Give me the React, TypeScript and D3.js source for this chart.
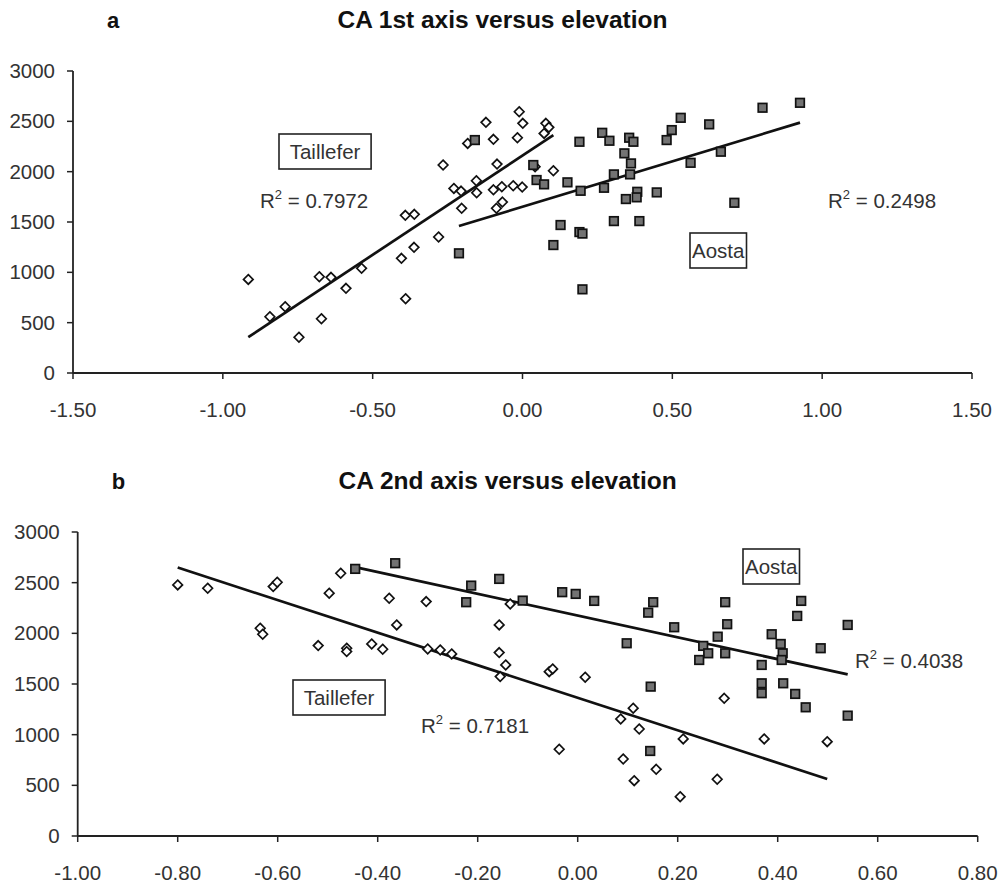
import * as d3 from "d3";

// CA axis score vs elevation (m)
const taillA: [number, number][] = [
  [-0.915, 930], [-0.843, 559], [-0.792, 658], [-0.746, 355], [-0.678, 956], [-0.671, 539],
  [-0.639, 950], [-0.589, 841], [-0.537, 1040], [-0.404, 1139], [-0.391, 1566], [-0.361, 1576],
  [-0.362, 1248], [-0.39, 738], [-0.28, 1351], [-0.265, 2066], [-0.229, 1834], [-0.203, 1636],
  [-0.205, 1807], [-0.183, 2281], [-0.122, 2490], [-0.097, 2321], [-0.154, 1910], [-0.153, 1790],
  [-0.085, 2075], [-0.097, 1820], [-0.069, 1850], [-0.031, 1860], [-0.001, 1847], [-0.067, 1698],
  [-0.087, 1636], [-0.011, 2595], [0.001, 2480], [-0.017, 2337], [0.078, 2480], [0.088, 2440],
  [0.072, 2380], [0.042, 2049], [0.103, 2009],
];
const aostaA: [number, number][] = [
  [-0.212, 1189], [-0.159, 2314], [0.036, 2066], [0.047, 1917], [0.072, 1874], [0.15, 1894],
  [0.19, 2297], [0.194, 1810], [0.127, 1470], [0.103, 1271], [0.19, 1400], [0.2, 1385],
  [0.2, 831], [0.266, 2386], [0.29, 2307], [0.272, 1840], [0.305, 1973], [0.305, 1509],
  [0.34, 2182], [0.356, 2337], [0.37, 2297], [0.362, 2082], [0.359, 1973], [0.345, 1728],
  [0.383, 1800], [0.381, 1745], [0.39, 1509], [0.448, 1794], [0.481, 2314], [0.498, 2413],
  [0.528, 2535], [0.561, 2088], [0.623, 2470], [0.662, 2198], [0.707, 1691], [0.801, 2635],
  [0.926, 2684],
];
const taillB: [number, number][] = [
  [-0.8, 2478], [-0.74, 2445], [-0.609, 2461], [-0.601, 2504], [-0.635, 2050], [-0.63, 1991],
  [-0.519, 1879], [-0.497, 2396], [-0.474, 2593], [-0.462, 1853], [-0.462, 1820], [-0.412, 1895],
  [-0.39, 1843], [-0.377, 2346], [-0.362, 2083], [-0.303, 2313], [-0.3, 1846], [-0.275, 1836],
  [-0.252, 1797], [-0.157, 2083], [-0.157, 1810], [-0.144, 1688], [-0.155, 1573], [-0.135, 2290],
  [-0.057, 1622], [-0.05, 1649], [0.015, 1567], [-0.037, 856], [0.111, 1261], [0.086, 1155],
  [0.123, 1056], [0.091, 760], [0.157, 658], [0.113, 546], [0.293, 1359], [0.211, 958],
  [0.279, 560], [0.205, 388], [0.373, 958], [0.499, 931],
];
const aostaB: [number, number][] = [
  [-0.445, 2636], [-0.365, 2692], [-0.213, 2471], [-0.223, 2307], [-0.157, 2537], [-0.11, 2323],
  [-0.031, 2406], [-0.004, 2389], [0.033, 2320], [0.098, 1902], [0.146, 1474], [0.145, 839],
  [0.141, 2204], [0.151, 2307], [0.193, 2060], [0.295, 2307], [0.299, 2090], [0.28, 1967],
  [0.251, 1876], [0.261, 1803], [0.243, 1737], [0.295, 1803], [0.368, 1688], [0.368, 1507],
  [0.368, 1409], [0.388, 1991], [0.406, 1895], [0.41, 1803], [0.408, 1737], [0.411, 1507],
  [0.435, 1402], [0.456, 1270], [0.439, 2172], [0.447, 2320], [0.486, 1853], [0.54, 2083],
  [0.54, 1188],
];

// linear trend lines [slope, intercept]
const fitTaillA = [1972, 2160];
const fitAostaA = [903, 1651];
const fitTaillB = [-1606, 1364];
const fitAostaB = [-1075, 2175];

const r2 = { taillA: "0.7972", aostaA: "0.2498", taillB: "0.7181", aostaB: "0.4038" };

const yTicks = [0, 500, 1000, 1500, 2000, 2500, 3000];
const xTicksA = [-1.5, -1, -0.5, 0, 0.5, 1, 1.5];
const xTicksB = [-1, -0.8, -0.6, -0.4, -0.2, 0, 0.2, 0.4, 0.6, 0.8];

const FONT = "'Liberation Sans', Arial, sans-serif";
const FS = 20.5;

type Label = { text: string; x: number; y: number; r2?: boolean };

type PanelProps = {
  letter: string;
  title: string;
  left: number;
  right: number;
  top: number;
  bottom: number;
  xTicks: number[];
  taill: [number, number][];
  aosta: [number, number][];
  fitT: number[];
  fitA: number[];
  labels: Label[];
};

const Diamond = ({ x, y }: { x: number; y: number }) => (
  <path
    d={`M${x},${y - 4.8}L${x + 4.8},${y}L${x},${y + 4.8}L${x - 4.8},${y}Z`}
    fill="white"
    stroke="#111"
    strokeWidth={1.7}
  />
);

const Square = ({ x, y }: { x: number; y: number }) => (
  <rect x={x - 4.3} y={y - 4.3} width={8.6} height={8.6} fill="#737373" stroke="#111" strokeWidth={1.7} />
);

const Panel = (p: PanelProps) => {
  const x = d3.scaleLinear().domain(d3.extent(p.xTicks) as [number, number]).range([p.left, p.right]);
  const y = d3.scaleLinear().domain([0, 3000]).range([p.bottom, p.top]);

  const trend = (pts: [number, number][], fit: number[]) => {
    const ext = d3.extent(pts, (d) => d[0]) as [number, number];
    return d3
      .line<number>()
      .x((d) => x(d))
      .y((d) => y(fit[0] * d + fit[1]))(ext) as string;
  };

  const boxW = (t: string) => t.length * 8.9 + 12;

  return (
    <g fontFamily={FONT}>
      <text x={p.left + 34} y={p.top - 43} fontSize={22} fontWeight="bold" fill="#111">
        {p.letter}
      </text>
      <text x={(p.left + p.right) / 2 - 20} y={p.top - 43} fontSize={24.5} fontWeight="bold" fill="#111" textAnchor="middle">
        {p.title}
      </text>

      {/* axes */}
      <line x1={p.left} x2={p.left} y1={p.top} y2={p.bottom} stroke="#222" strokeWidth={1.8} />
      <line x1={p.left} x2={p.right} y1={p.bottom} y2={p.bottom} stroke="#222" strokeWidth={1.8} />
      {yTicks.map((t) => (
        <g key={t}>
          <line x1={p.left - 6} x2={p.left} y1={y(t)} y2={y(t)} stroke="#222" strokeWidth={1.5} />
          <text x={p.left - 18} y={y(t) + 7} textAnchor="end" fontSize={FS} fill="#333">
            {t}
          </text>
        </g>
      ))}
      {p.xTicks.map((t) => (
        <g key={t}>
          <line x1={x(t)} x2={x(t)} y1={p.bottom} y2={p.bottom + 6} stroke="#222" strokeWidth={1.5} />
          <text x={x(t)} y={p.bottom + 44} textAnchor="middle" fontSize={FS} fill="#333">
            {t.toFixed(2)}
          </text>
        </g>
      ))}

      {/* trend lines */}
      <path d={trend(p.taill, p.fitT)} stroke="#111" strokeWidth={2.7} fill="none" />
      <path d={trend(p.aosta, p.fitA)} stroke="#111" strokeWidth={2.7} fill="none" />

      {p.taill.map((d, i) => (
        <Diamond key={"t" + i} x={x(d[0])} y={y(d[1])} />
      ))}
      {p.aosta.map((d, i) => (
        <Square key={"a" + i} x={x(d[0])} y={y(d[1])} />
      ))}

      {p.labels.map((l, i) =>
        l.r2 ? (
          <text key={i} x={l.x} y={l.y} fontSize={FS} fill="#333">
            R<tspan fontSize={13} dy={-9}>2</tspan>
            <tspan dy={9}>{" = " + l.text}</tspan>
          </text>
        ) : (
          <g key={i}>
            <rect x={l.x} y={l.y} width={boxW(l.text)} height={35} fill="white" stroke="#222" strokeWidth={1.6} />
            <text x={l.x + boxW(l.text) / 2} y={l.y + 25} textAnchor="middle" fontSize={FS} fill="#333">
              {l.text}
            </text>
          </g>
        )
      )}
    </g>
  );
};

export default function App() {
  return (
    <svg
      width={998}
      height={884}
      style={{ position: "absolute", left: 0, top: 0, background: "white" }}
    >
      <Panel
        letter="a"
        title="CA 1st axis versus elevation"
        left={73}
        right={972}
        top={71}
        bottom={373}
        xTicks={xTicksA}
        taill={taillA}
        aosta={aostaA}
        fitT={fitTaillA}
        fitA={fitAostaA}
        labels={[
          { text: "Taillefer", x: 279, y: 134 },
          { text: r2.taillA, x: 260, y: 208, r2: true },
          { text: "Aosta", x: 690, y: 233 },
          { text: r2.aostaA, x: 828, y: 208, r2: true },
        ]}
      />
      <Panel
        letter="b"
        title="CA 2nd axis versus elevation"
        left={77.7}
        right={977.7}
        top={532}
        bottom={836}
        xTicks={xTicksB}
        taill={taillB}
        aosta={aostaB}
        fitT={fitTaillB}
        fitA={fitAostaB}
        labels={[
          { text: "Aosta", x: 743, y: 549 },
          { text: r2.aostaB, x: 855, y: 668, r2: true },
          { text: "Taillefer", x: 293, y: 680 },
          { text: r2.taillB, x: 421, y: 733, r2: true },
        ]}
      />
    </svg>
  );
}
